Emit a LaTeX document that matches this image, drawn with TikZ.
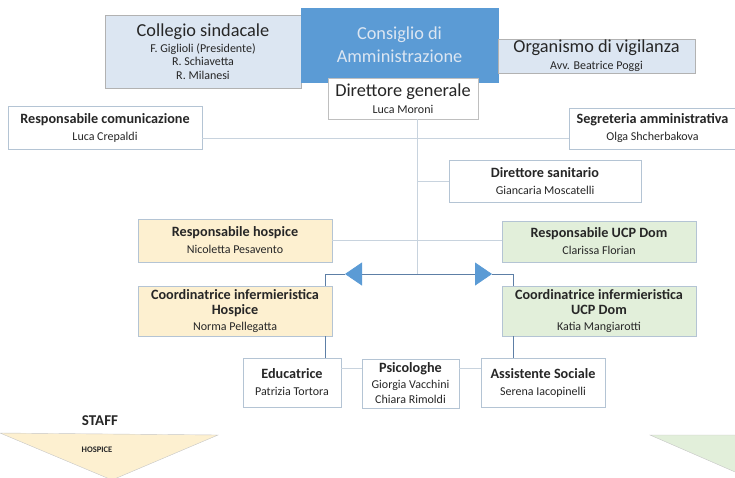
\documentclass[tikz,border=0pt]{standalone}
\usepackage{fontspec}
\setmainfont{Carlito}
\usetikzlibrary{arrows.meta}

\definecolor{paleblue}{HTML}{DCE6F2}
\definecolor{midblue}{HTML}{5B9BD5}
\definecolor{paleorange}{HTML}{FDF0D0}
\definecolor{palegreen}{HTML}{E2EFDA}
\definecolor{boxline}{HTML}{B4C4D4}
\definecolor{linkline}{HTML}{C8D3DE}
\definecolor{flowline}{HTML}{5D7FA6}
\definecolor{txt}{HTML}{262626}

\tikzset{
	box/.style={draw=boxline, fill=white, inner sep=0pt, align=center, text=txt, font=\fontsize{12}{17}\selectfont},
	topbox/.style={box, draw=gray!60, fill=paleblue, font=\fontsize{12}{13.5}\selectfont},
	link/.style={draw=linkline, line width=0.8pt},
	flow/.style={draw=flowline, line width=0.8pt},
}
\newcommand{\ttl}[1]{{\fontsize{14.2}{17}\selectfont\bfseries #1}}
\newcommand{\bigttl}[1]{{\fontsize{18.3}{17}\selectfont #1}}

\begin{document}
\begin{tikzpicture}[x=1pt,y=-1pt]
	\clip (0,0) rectangle (735,477);

	% vertici
	\node[topbox, minimum width=196, minimum height=73] (coll) at (203,51.5) {\bigttl{Collegio sindacale}\\[2pt]F. Giglioli (Presidente)\\R. Schiavetta\\R. Milanesi};
	\node[box, draw=midblue, fill=midblue, text=paleblue, minimum width=197, minimum height=74, font=\fontsize{18.3}{23}\selectfont] (cda) at (399.5,45) {Consiglio di\\Amministrazione};
	\node[topbox, minimum width=197, minimum height=34, font=\fontsize{12}{17}\selectfont] (odv) at (596.5,56) {\bigttl{Organismo di vigilanza}\\Avv. Beatrice Poggi};
	\node[box, draw=gray!50, minimum width=150, minimum height=41] (dg) at (403,98.5) {\bigttl{Direttore generale}\\Luca Moroni};

	% staff direzione
	\node[box, minimum width=194, minimum height=43] (rcom) at (105,127.5) {\ttl{Responsabile comunicazione}\\Luca Crepaldi};
	\node[box, minimum width=167, minimum height=41] (segr) at (652.5,128.5) {\ttl{Segreteria amministrativa}\\Olga Shcherbakova};
	\node[box, minimum width=192, minimum height=42] (dsan) at (545,181) {\ttl{Direttore sanitario}\\Giancaria Moscatelli};

	% responsabili
	\node[box, fill=paleorange, minimum width=194, minimum height=43] (rhosp) at (235,240.5) {\ttl{Responsabile hospice}\\Nicoletta Pesavento};
	\node[box, fill=palegreen, minimum width=194, minimum height=41] (rucp) at (599,241.5) {\ttl{Responsabile UCP Dom}\\Clarissa Florian};
	\node[box, fill=paleorange, minimum width=194, minimum height=50, font=\fontsize{12}{15.5}\selectfont] (chosp) at (235,311) {\ttl{Coordinatrice infermieristica}\\\ttl{Hospice}\\Norma Pellegatta};
	\node[box, fill=palegreen, minimum width=194, minimum height=50, font=\fontsize{12}{15.5}\selectfont] (cucp) at (599,311) {\ttl{Coordinatrice infermieristica}\\\ttl{UCP Dom}\\Katia Mangiarotti};

	% equipe
	\node[box, minimum width=98, minimum height=49] (edu) at (292,382.5) {\ttl{Educatrice}\\Patrizia Tortora};
	\node[box, minimum width=97, minimum height=49, font=\fontsize{12}{15.5}\selectfont] (psi) at (410.5,383.5) {\ttl{Psicologhe}\\Giorgia Vacchini\\Chiara Rimoldi};
	\node[box, minimum width=124, minimum height=49] (ass) at (543,382.5) {\ttl{Assistente Sociale}\\Serena Iacopinelli};

	\coordinate (trunk) at (417,274);
	\coordinate (cL) at (325,274);
	\coordinate (cR) at (513,274);
	\coordinate (aL) at (345,274);
	\coordinate (aR) at (492,274);

	\draw[link] (dg.south -| trunk) -- (trunk);
	\draw[link] ([yshift=-10.5pt]rcom.east) -- ([yshift=-10.5pt]rcom.east -| segr.west);
	\draw[link] (dsan.west) -- (dsan.west -| trunk);
	\draw[link] (rhosp.east) -- (rhosp.east -| rucp.west);
	\draw[link] ([yshift=14.5pt]edu.east) -- ([yshift=14.5pt]edu.east -| psi.west);
	\draw[link] ([yshift=14.5pt]ass.west) -- ([yshift=14.5pt]ass.west -| psi.east);

	\draw[flow] (chosp.north -| cL) -- (cL) -- (aL);
	\draw[flow] (aR) -- (cR) -- (cucp.north -| cR);
	\draw[flow, {Triangle[length=17pt,width=23pt,fill=midblue,color=midblue]}-{Triangle[length=17pt,width=23pt,fill=midblue,color=midblue]}] (aL) -- (aR);
	\draw[flow] (chosp.south -| cL) -- (edu.north -| cL);
	\draw[flow] (cucp.south -| cR) -- (ass.north -| cR);

	% frecce staff
	\draw[fill=paleorange, draw=gray!45] (0,433) -- (218,435) -- (112,480) -- cycle;
	\draw[fill=palegreen, draw=gray!45] (650,435) -- (880,435) -- (765,485) -- cycle;
	\node[text=txt, font=\fontsize{15}{17}\selectfont\bfseries] (staff) at (100,421) {STAFF};
	\node[text=txt, font=\fontsize{8.5}{10}\selectfont\bfseries] (hosp) at (97,450) {HOSPICE};
\end{tikzpicture}
\end{document}
